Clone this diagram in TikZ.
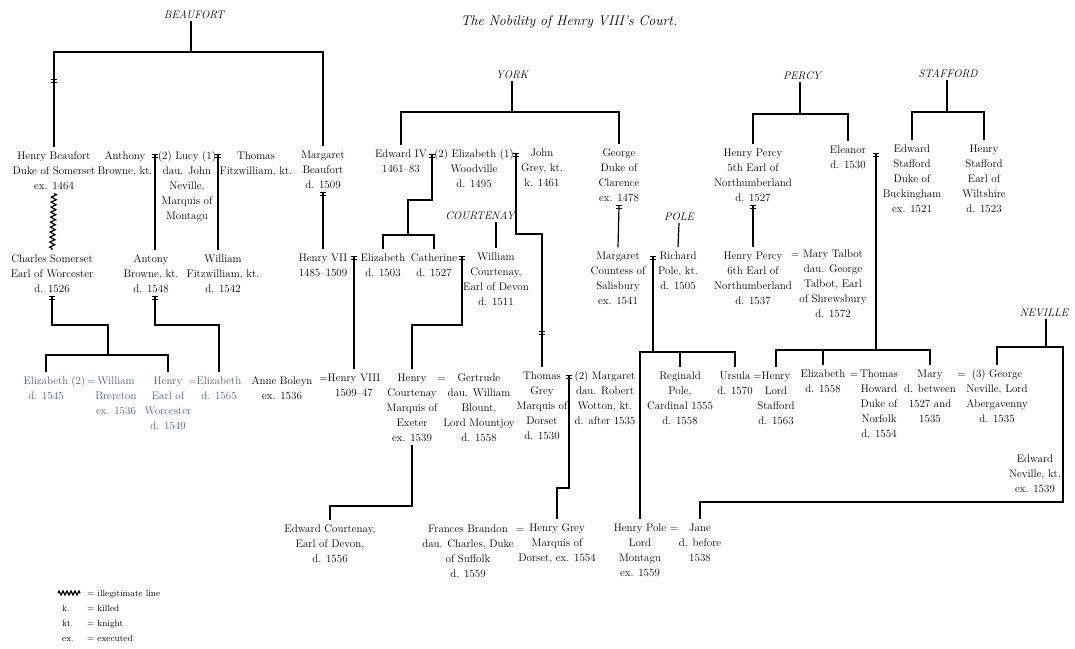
\documentclass[tikz,border=0pt]{standalone}
\usetikzlibrary{decorations.pathmorphing}
\definecolor{scanblue}{RGB}{78,98,128}
\tikzset{
  line/.style={draw=black,line width=1.2pt},
  wavy/.style={line,decorate,decoration={zigzag,segment length=5pt,amplitude=2.5pt}},
  eqmark/.pic={\draw[line width=0.8pt] (-3,0) -- (3,0) (-3,3) -- (3,3);},
  person/.style={align=center,anchor=base,inner xsep=1pt,inner ysep=4pt,font=\fontsize{11}{15}\selectfont},
  house/.style={inner sep=2pt,font=\fontsize{11}{13}\selectfont\itshape},
  key/.style={anchor=base west,inner sep=0pt,font=\fontsize{9}{11}\selectfont},
}
\begin{document}
\begin{tikzpicture}[x=1pt,y=-1pt]
\useasboundingbox (0,0) rectangle (1075,648);

\node[font=\fontsize{14}{16}\selectfont\itshape] (title) at (569,22) {The Nobility of Henry VIII's Court.};

% houses
\node[house] (beaufort) at (194,15) {BEAUFORT};
\node[house] (york) at (512,75) {YORK};
\node[house] (percy) at (802,76) {PERCY};
\node[house] (stafford) at (948,74) {STAFFORD};
\node[house] (courtenay) at (480,216) {COURTENAY};
\node[house] (pole) at (679,217) {POLE};
\node[house] (neville) at (1044,313) {NEVILLE};

% first row (base = last line)
\node[person] (hbeaufort) at (54,189) {Henry Beaufort\\Duke of Somerset\\ex. 1464};
\node[person] (abrowne) at (125,174) {Anthony\\Browne, kt.};
\node[person] (lucy) at (187,219) {(2) Lucy (1)\\dau. John\\Neville,\\Marquis of\\Montagu};
\node[person] (tfitz) at (256,174) {Thomas\\Fitzwilliam, kt.};
\node[person] (mbeaufort) at (323,188) {Margaret\\Beaufort\\d. 1509};
\node[person] (edward4) at (401,172) {Edward IV\\1461--83};
\node[person] (ewood) at (474,187) {(2) Elizabeth (1)\\Woodville\\d. 1495};
\node[person] (jgrey) at (542,186) {John\\Grey, kt.\\k. 1461};
\node[person] (george) at (619,201) {George\\Duke of\\Clarence\\ex. 1478};
\node[person] (hpercy5) at (753,201) {Henry Percy\\5th Earl of\\Northumberland\\d. 1527};
\node[person] (eleanor) at (848,168) {Eleanor\\d. 1530};
\node[person] (estafford) at (912,212) {Edward\\Stafford\\Duke of\\Buckingham\\ex. 1521};
\node[person] (hstafford) at (984,212) {Henry\\Stafford\\Earl of\\Wiltshire\\d. 1523};

% second row
\node[person] (csomerset) at (52,292) {Charles Somerset\\Earl of Worcester\\d. 1526};
\node[person] (antonyb) at (151,292) {Antony\\Browne, kt.\\d. 1548};
\node[person] (wfitz) at (223,292) {William\\Fitzwilliam, kt.\\d. 1542};
\node[person] (henry7) at (323,276) {Henry VII\\1485--1509};
\node[person] (eliz) at (383,276) {Elizabeth\\d. 1503};
\node[person] (cath) at (434,276) {Catherine\\d. 1527};
\node[person] (wcourt) at (496,305) {William\\Courtenay,\\Earl of Devon\\d. 1511};
\node[person] (margsal) at (618,304) {Margaret\\Countess of\\Salisbury\\ex. 1541};
\node[person] (rpole) at (678,289) {Richard\\Pole, kt.\\d. 1505};
\node[person] (hpercy6) at (753,304) {Henry Percy\\6th Earl of\\Northumberland\\d. 1537};
\node[person] (mtalbot) at (833,317) {\llap{= }Mary Talbot\\dau. George\\Talbot, Earl\\of Shrewsbury\\d. 1572};

% third row
\node[person,text=scanblue] (elizs) at (46,399) {Elizabeth\\d. 1545};
\node[person,text=scanblue] (wbrer) at (116,414) {\llap{(2)\,=\,}William\\Brereton\\ex. 1536};
\node[person,text=scanblue] (henryw) at (168,429) {Henry\\Earl of\\Worcester\\d. 1549};
\node[person,text=scanblue] (elizb) at (219,399) {\llap{=}Elizabeth\\d. 1565};
\node[person] (anneb) at (282,399) {Anne Boleyn\\ex. 1536};
\node[person] (henry8) at (354,396) {\llap{=}Henry VIII\\1509--47};
\node[person] (hcourt) at (412,441) {Henry\\Courtenay\\Marquis of\\Exeter\\ex. 1539};
\node[person] (gertrude) at (479,441) {\llap{=\hspace{12pt}}Gertrude\\dau. William\\Blount,\\Lord Mountjoy\\d. 1558};
\node[person] (tgrey) at (542,439) {Thomas\\Grey\\Marquis of\\Dorset\\d. 1530};
\node[person] (margw) at (605,424) {(2) Margaret\\dau. Robert\\Wotton, kt.\\d. after 1535};
\node[person] (reginald) at (680,424) {Reginald\\Pole,\\Cardinal 1555\\d. 1558};
\node[person] (ursula) at (735,394) {Ursula\\d. 1570};
\node[person] (hstaff) at (776,424) {\llap{=}Henry\\Lord\\Stafford\\d. 1563};
\node[person] (elizst) at (823,392) {Elizabeth\\d. 1558};
\node[person] (thoward) at (879,437) {\llap{=\,}Thomas\\Howard\\Duke of\\Norfolk\\d. 1554};
\node[person] (mary) at (930,422) {Mary\\d. between\\1527 and\\1535};
\node[person] (gneville) at (997,422) {\llap{=\hspace{6pt}}(3) George\\Neville, Lord\\Abergavenny\\d. 1535};
\node[person] (eneville) at (1035,492) {Edward\\Neville, kt.\\ex. 1539};

% fourth row
\node[person] (ecourt) at (330,562) {Edward Courtenay,\\Earl of Devon,\\d. 1556};
\node[person] (fbrandon) at (468,577) {Frances Brandon\rlap{\hspace{8pt}=}\\dau. Charles, Duke\\of Suffolk\\d. 1559};
\node[person] (hgrey) at (557,561) {Henry Grey\\Marquis of\\Dorset, ex. 1554};
\node[person] (hpole) at (640,576) {Henry Pole\rlap{ =}\\Lord\\Montagu\\ex. 1559};
\node[person] (jane) at (700,561) {Jane\\d. before\\1538};

% marriage marks and junctions
\coordinate (m-ab) at (155,154);
\coordinate (m-lt) at (218,154);
\coordinate (m-h7) at (354,256);
\coordinate (m-e4) at (432,154);
\coordinate (m-jg) at (516,153);
\coordinate (m-cw) at (462,256);
\coordinate (m-tg) at (569,375);
\coordinate (m-mr) at (653,256);
\coordinate (m-es) at (876,153);
\coordinate (bf) at (191,52);
\coordinate (cs1) at (108,325);
\coordinate (cs2) at (108,355);
\coordinate (ab1) at (219,325);
\coordinate (yk) at (512,112);
\coordinate (e4a) at (432,200);
\coordinate (e4b) at (408,235);
\coordinate (jg1) at (516,234);
\coordinate (cw1) at (462,325);
\coordinate (hc1) at (412,506);
\coordinate (tg1) at (569,488);
\coordinate (mr1) at (653,352);
\coordinate (pc) at (800,114);
\coordinate (es1) at (876,350);
\coordinate (sf) at (947,112);
\coordinate (nv) at (1046,347);
\coordinate (nv1) at (1063,502);

% Beaufort
\draw[line] (beaufort.south -| bf) -- (bf);
\draw[line] (hbeaufort.north) |- (bf) -| (mbeaufort.north);
\pic at (54,79) {eqmark};
\draw[wavy] (hbeaufort.south) -- (csomerset.north);
\pic at (csomerset.south) {eqmark};
\draw[line] (csomerset.south) |- (cs1) -- (cs2);
\draw[line] (elizs.north) |- (cs2) -| (henryw.north);

% Browne and Fitzwilliam
\pic at (m-ab) {eqmark};
\draw[line] (m-ab) -- (m-ab |- antonyb.north);
\pic at (antonyb.south -| m-ab) {eqmark};
\draw[line] (antonyb.south -| m-ab) |- (ab1) -- (elizb.north);
\pic at (m-lt) {eqmark};
\draw[line] (m-lt) -- (m-lt |- wfitz.north);

% Tudor
\pic at (mbeaufort.south) {eqmark};
\draw[line] (mbeaufort.south) -- (henry7.north);
\pic at (m-h7) {eqmark};
\draw[line] (m-h7) -- (m-h7 |- henry8.north);

% York
\draw[line] (york.south) -- (yk);
\draw[line] (edward4.north) |- (yk) -| (george.north);
\pic at (m-e4) {eqmark};
\draw[line] (m-e4) -- (e4a) -| (e4b);
\draw[line] (eliz.north) |- (e4b) -| (cath.north);
\pic at (m-jg) {eqmark};
\draw[line] (m-jg) -- (jg1) -| (tgrey.north);
\pic at (542,331) {eqmark};
\pic at (george.south) {eqmark};
\draw[line] (george.south) -- (margsal.north);

% Courtenay
\draw[line] (courtenay.south -| wcourt.north) -- (wcourt.north);
\pic at (m-cw) {eqmark};
\draw[line] (m-cw) -- (cw1) -| (hcourt.north);
\draw[line] (hcourt.south) -- (hc1) -| (ecourt.north);

% Grey
\pic at (m-tg) {eqmark};
\draw[line] (m-tg) -- (tg1) -| (hgrey.north);

% Pole
\draw[line] (pole.south) -- (rpole.north);
\pic at (m-mr) {eqmark};
\draw[line] (m-mr) -- (mr1);
\draw[line] (hpole.north) |- (mr1) -| (ursula.north);
\draw[line] (reginald.north) -- (reginald.north |- mr1);

% Percy
\draw[line] (percy.south -| pc) -- (pc);
\draw[line] (hpercy5.north) |- (pc) -| (eleanor.north);
\pic at (hpercy5.south) {eqmark};
\draw[line] (hpercy5.south) -- (hpercy6.north);

% Stafford
\draw[line] (stafford.south -| sf) -- (sf);
\draw[line] (estafford.north) |- (sf) -| (hstafford.north);
\pic at (m-es) {eqmark};
\draw[line] (m-es) -- (es1);
\draw[line] (hstaff.north) |- (es1) -| (mary.north);
\draw[line] (elizst.north) -- (elizst.north |- es1);

% Neville
\draw[line] (neville.south -| nv) -- (nv);
\draw[line] (gneville.north) |- (nv) -| (nv1) -| (jane.north);

% key
\coordinate (kw1) at (58,593);
\coordinate (kw2) at (80,593);
\draw[line,decorate,decoration={zigzag,segment length=4pt,amplitude=2pt}] (kw1) -- (kw2);
\node[key] (kwtext) at (87,596) {= illegitimate line};
\node[key] (kk) at (62,611) {k.};
\node[key] (kktext) at (87,611) {= killed};
\node[key] (kkt) at (62,626) {kt.};
\node[key] (kkttext) at (87,626) {= knight};
\node[key] (kex) at (62,641) {ex.};
\node[key] (kextext) at (87,641) {= executed};
\end{tikzpicture}
\end{document}
